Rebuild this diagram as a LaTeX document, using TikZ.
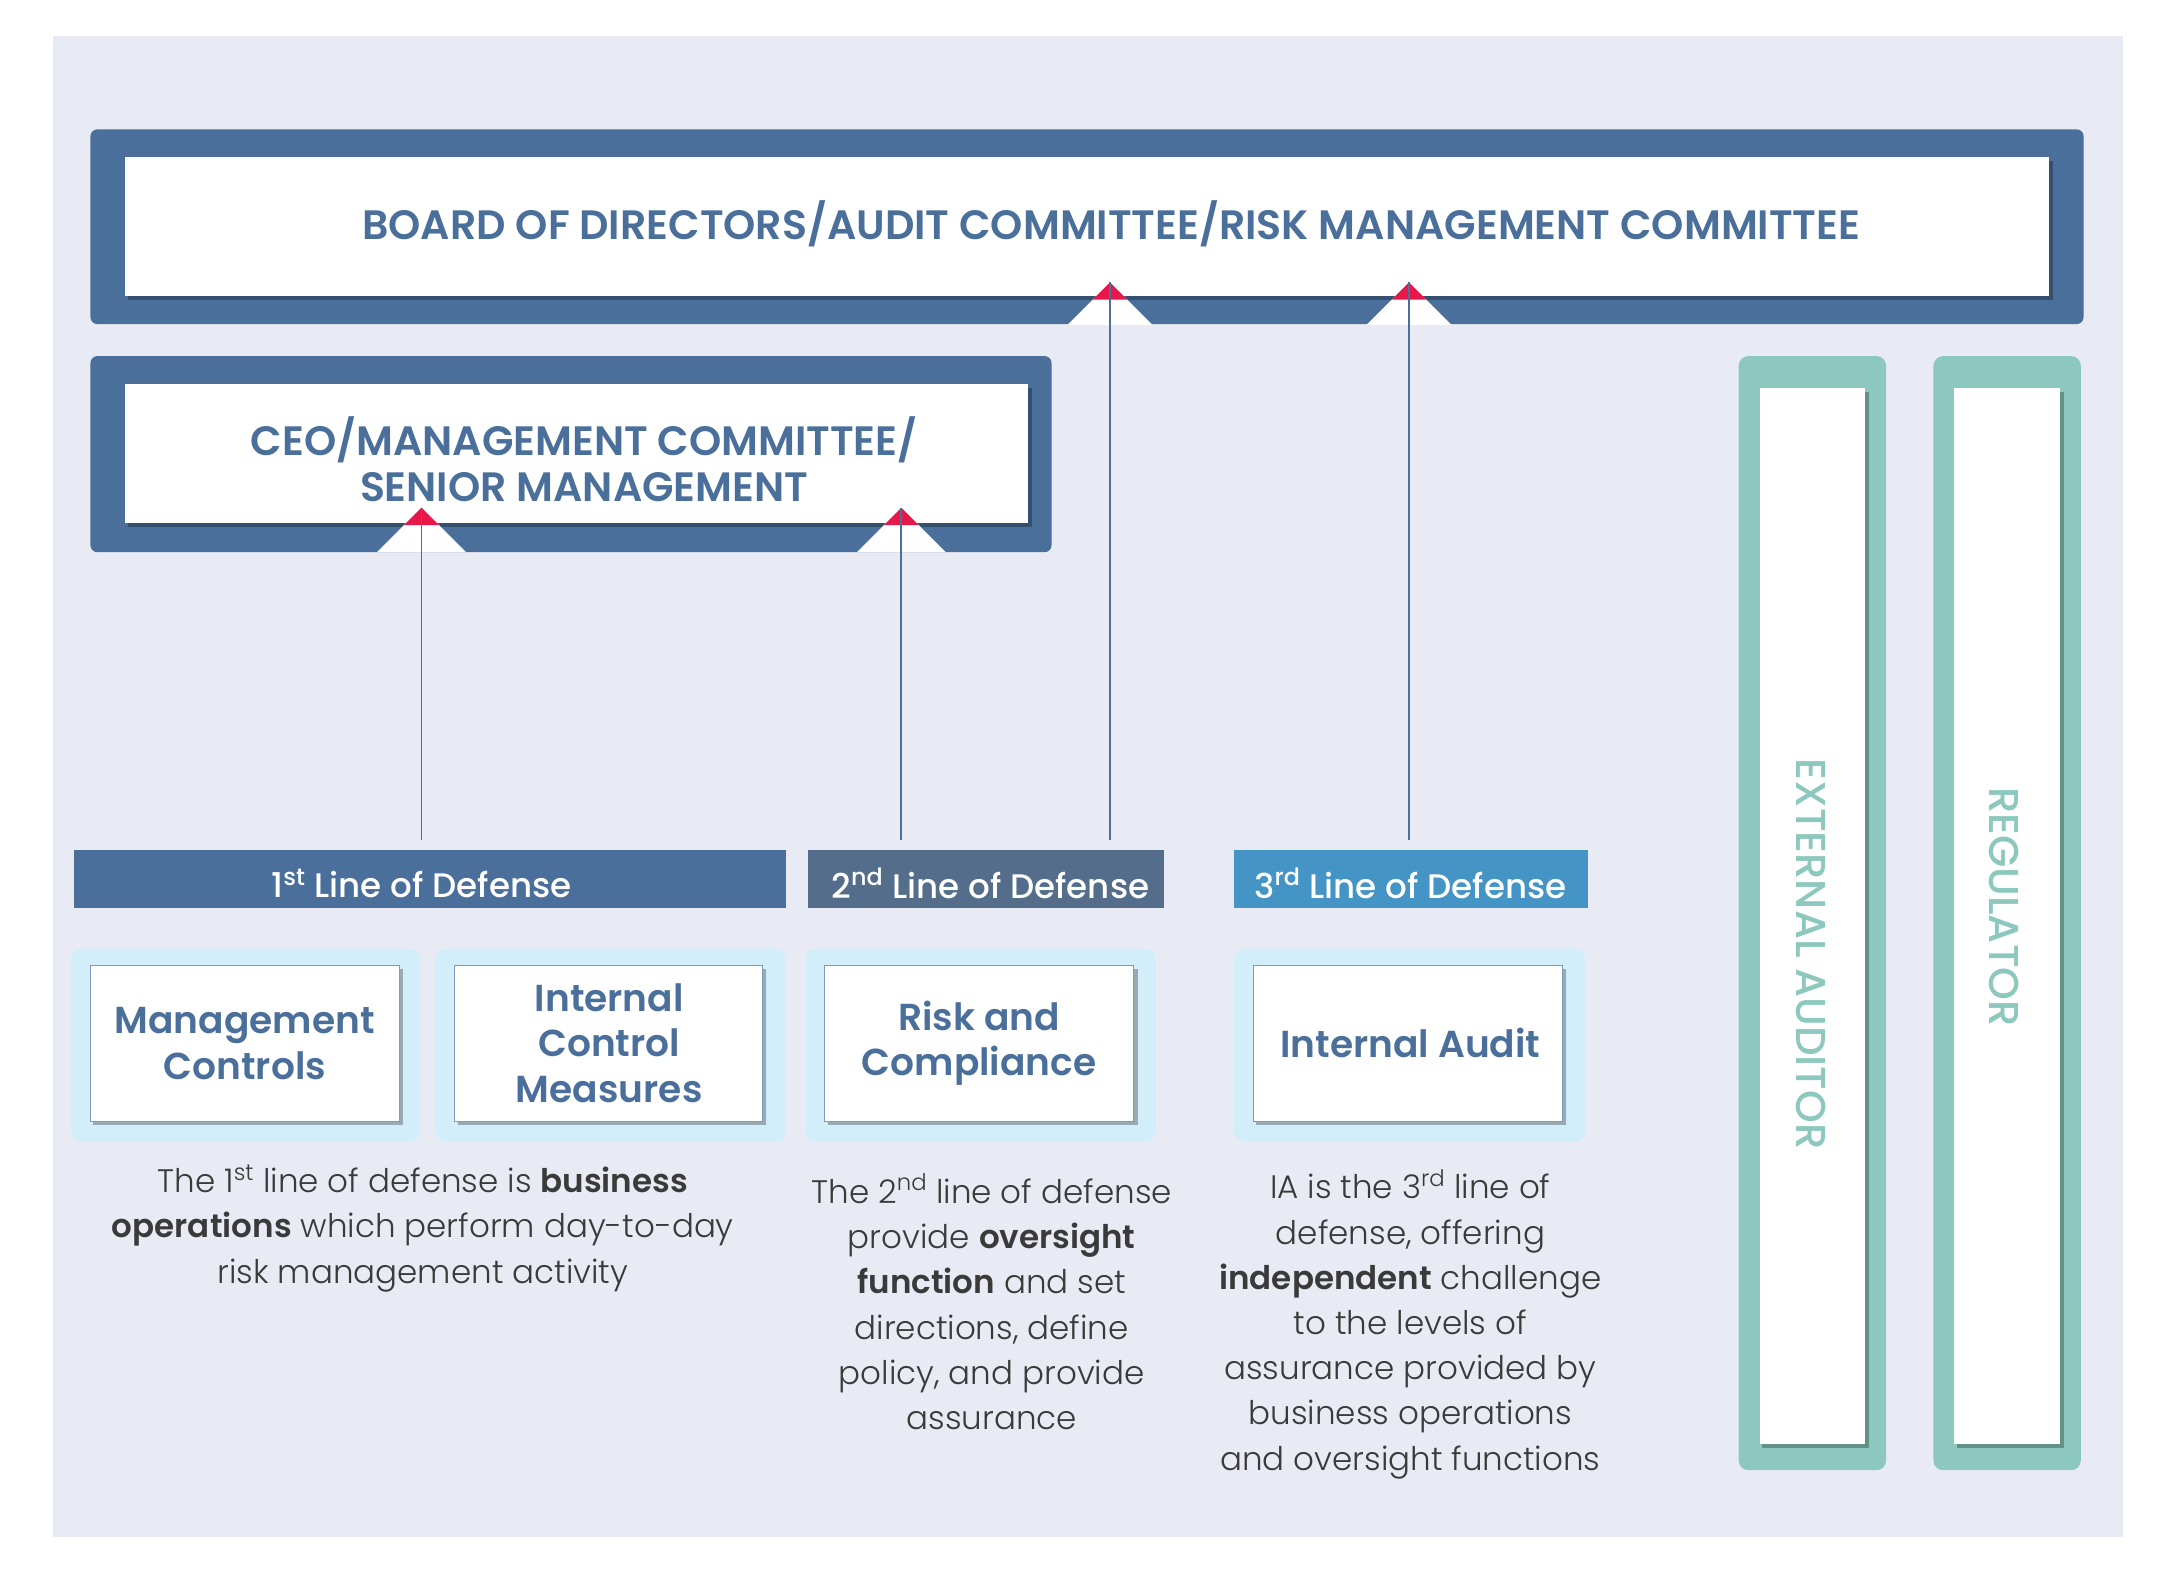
\documentclass[tikz,border=0pt]{standalone}
\usepackage{fontspec}
\setmainfont{Poppins}
\newfontfamily\headfont{Poppins SemiBold}
\newfontfamily\medfont{Poppins Medium}
\newfontfamily\bodyfont{Poppins Light}[BoldFont={Poppins SemiBold}]
\definecolor{bg}{HTML}{E8EBF3}
\definecolor{navy}{HTML}{4A6F9B}
\definecolor{slate}{HTML}{536D8B}
\definecolor{sky}{HTML}{4494C5}
\definecolor{card}{HTML}{D3EEFB}
\definecolor{teal}{HTML}{8CC8BD}
\definecolor{tip}{HTML}{E8174A}
\definecolor{ink}{HTML}{3A3A3A}
\tikzset{
  outerbox/.style={fill=navy, rounded corners=5pt},
  whitebox/.style={fill=white},
  shadowbox/.style={fill=black, opacity=0.28},
  headtext/.style={font=\headfont\fontsize{29.5}{33}\selectfont, text=navy, align=center},
  bartext/.style={font=\medfont\fontsize{24.5}{28}\selectfont, text=white},
  cardtext/.style={font=\headfont\fontsize{27}{33}\selectfont, text=navy, align=center},
  desctext/.style={font=\bodyfont\fontsize{23.4}{32.5}\selectfont, text=ink, align=center},
  conn/.style={draw=navy, line width=1.2pt},
  sidetext/.style={font=\medfont\fontsize{30}{34}\selectfont, text=teal, rotate=-90},
}
\newcommand{\notch}[2]{%
  \fill[white] (#1-32,#2+32) -- (#1,#2) -- (#1+32,#2+32) -- cycle;
  \fill[tip] (#1-12.5,#2+12.5) -- (#1,#2) -- (#1+12.5,#2+12.5) -- cycle;
}
\newcommand{\wbox}[4]{%
  \fill[shadowbox] (#1+2,#2+3) rectangle (#3+3,#4+3);
  \fill[whitebox] (#1,#2) rectangle (#3,#4);
}
\begin{document}
\begin{tikzpicture}[x=1pt,y=-1pt]
\useasboundingbox (0,0) rectangle (1563,1131);
\fill[white] (0,0) rectangle (1563,1131);
\fill[bg] (38,26) rectangle (1526,1105);

% Board
\fill[outerbox] (65,93) rectangle (1498,233);
\wbox{90}{113}{1473}{213}
\node[headtext] (board) at (799,161) {BOARD OF DIRECTORS/AUDIT COMMITTEE/RISK MANAGEMENT COMMITTEE};
\begin{scope}
\clip (65,93) rectangle (1498,233);
\notch{798}{203}
\notch{1013}{203}
\end{scope}

% CEO
\fill[outerbox] (65,256) rectangle (756,397);
\wbox{90}{276}{739}{376}
\node[headtext] (ceo) at (420,330) {CEO/MANAGEMENT COMMITTEE/\\SENIOR MANAGEMENT};
\begin{scope}
\clip (65,256) rectangle (756,397);
\notch{303}{365}
\notch{648}{365}
\end{scope}

\coordinate (a1) at (303,365);
\coordinate (a2) at (648,365);
\coordinate (a3) at (798,203);
\coordinate (a4) at (1013,203);

% Lines of defense bars
\fill[navy] (53,611) rectangle (565,653);
\node[bartext] (lod1) at (303,635) {1\textsuperscript{st} Line of Defense};
\coordinate (lod1top) at (309,611);
\fill[slate] (581,611) rectangle (837,653);
\node[bartext] (lod2) at (712,635) {2\textsuperscript{nd} Line of Defense};
\coordinate (lod2top) at (709,611);
\fill[sky] (887,611) rectangle (1142,653);
\node[bartext] (lod3) at (1014,635) {3\textsuperscript{rd} Line of Defense};
\coordinate (lod3top) at (1014,611);

% connectors
\draw[conn] ([yshift=7pt]lod1top -| a1) -- (a1);
\draw[conn] ([yshift=7pt]lod2top -| a2) -- (a2);
\draw[conn] ([yshift=7pt]lod2top -| a3) -- (a3);
\draw[conn] ([yshift=7pt]lod3top -| a4) -- (a4);

% cards
\fill[card, rounded corners=8pt] (51,682) rectangle (302,821);
\fill[card, rounded corners=8pt] (313,682) rectangle (565,821);
\fill[card, rounded corners=8pt] (579,682) rectangle (831,821);
\fill[card, rounded corners=8pt] (887,682) rectangle (1140,821);
\wbox{65}{694}{287}{806}
\wbox{327}{694}{548}{806}
\wbox{593}{694}{815}{806}
\wbox{901}{694}{1123}{806}
\draw[navy!70, line width=0.7pt] (65,694) rectangle (287,806);
\draw[navy!70, line width=0.7pt] (327,694) rectangle (548,806);
\draw[navy!70, line width=0.7pt] (593,694) rectangle (815,806);
\draw[navy!70, line width=0.7pt] (901,694) rectangle (1123,806);
\node[cardtext] (mc) at (176,750) {Management\\Controls};
\node[cardtext] (icm) at (438,750) {Internal\\Control\\Measures};
\node[cardtext] (rc) at (704,750) {Risk and\\Compliance};
\node[cardtext] (ia) at (1014,750) {Internal Audit};

% descriptions
\node[desctext] (d1) at (304,883) {The 1\textsuperscript{st} line of defense is \textbf{business}\\\textbf{operations} which perform day-to-day\\risk management activity};
\node[desctext] (d2) at (713,936) {The 2\textsuperscript{nd} line of defense\\provide \textbf{oversight}\\\textbf{function} and set\\directions, define\\policy, and provide\\assurance};
\node[desctext] (d3) at (1014,952) {IA is the 3\textsuperscript{rd} line of\\defense, offering\\\textbf{independent} challenge\\to the levels of\\assurance provided by\\business operations\\and oversight functions};

% right side
\fill[teal, rounded corners=7pt] (1250,256) rectangle (1356,1057);
\wbox{1265}{279}{1341}{1038}
\node[sidetext] (ext) at (1302,686) {EXTERNAL AUDITOR};
\fill[teal, rounded corners=7pt] (1390,256) rectangle (1496,1057);
\wbox{1405}{279}{1481}{1038}
\node[sidetext] (reg) at (1441,652) {REGULATOR};
\end{tikzpicture}
\end{document}
